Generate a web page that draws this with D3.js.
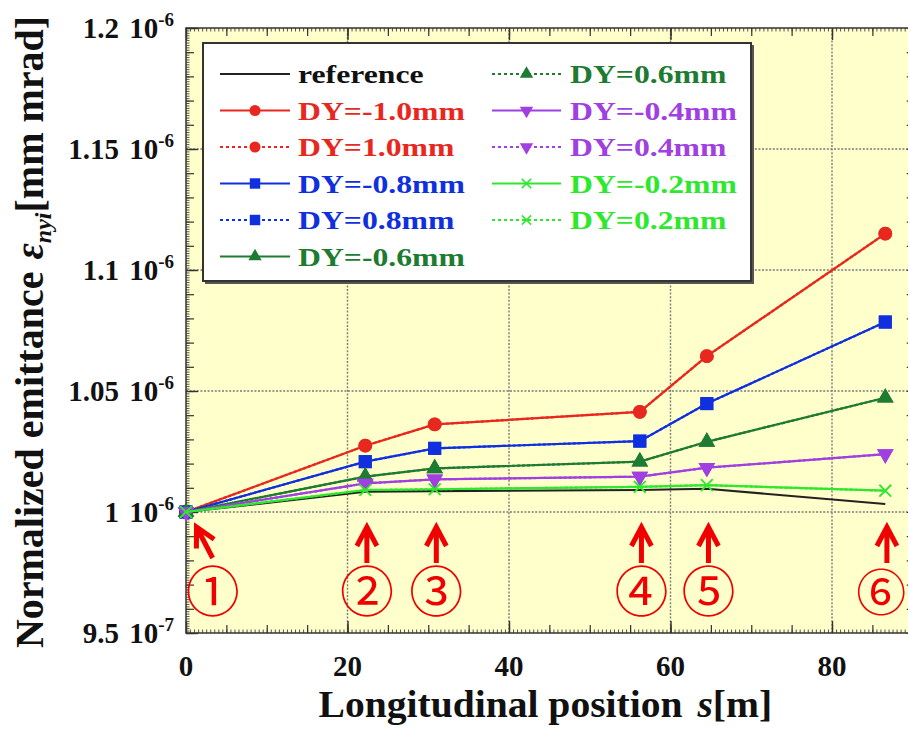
<!DOCTYPE html>
<html>
<head>
<meta charset="utf-8">
<script src="https://cdn.jsdelivr.net/npm/d3@7"></script>
<style>
  body { margin: 0; background: #fff; }
  svg { display: block; }
</style>
</head>
<body>
<svg id="chart" width="908" height="730"></svg>
<script>
// Longitudinal positions of the six observation stations [m]
const positions = [0, 22.2, 30.8, 56.2, 64.5, 86.6];
const stationLabels = ["①", "②", "③", "④", "⑤", "⑥"];

// Normalized emittance at each station, in units of 1e-6 mm mrad
const emitReference = [1.0, 1.0084, 1.0086, 1.0091, 1.0096, 1.0033];
const emitDYm10 = [1.0, 1.0274, 1.0362, 1.0414, 1.0644, 1.1150];
const emitDYp10 = [1.0, 1.0274, 1.0362, 1.0414, 1.0644, 1.1150];
const emitDYm08 = [1.0, 1.0208, 1.0263, 1.0293, 1.0448, 1.0785];
const emitDYp08 = [1.0, 1.0208, 1.0263, 1.0293, 1.0448, 1.0785];
const emitDYm06 = [1.0, 1.0146, 1.0180, 1.0208, 1.0290, 1.0472];
const emitDYp06 = [1.0, 1.0146, 1.0180, 1.0208, 1.0290, 1.0472];
const emitDYm04 = [1.0, 1.0118, 1.0135, 1.0146, 1.0183, 1.0239];
const emitDYp04 = [1.0, 1.0118, 1.0135, 1.0146, 1.0183, 1.0239];
const emitDYm02 = [1.0, 1.0091, 1.0094, 1.0104, 1.0111, 1.0088];
const emitDYp02 = [1.0, 1.0091, 1.0094, 1.0104, 1.0111, 1.0088];

const seriesNames = ["reference", "DY=-1.0mm", "DY=1.0mm", "DY=-0.8mm", "DY=0.8mm",
  "DY=-0.6mm", "DY=0.6mm", "DY=-0.4mm", "DY=0.4mm", "DY=-0.2mm", "DY=0.2mm"];
const seriesValues = [emitReference, emitDYm10, emitDYp10, emitDYm08, emitDYp08,
  emitDYm06, emitDYp06, emitDYm04, emitDYp04, emitDYm02, emitDYp02];

// Axis ticks
const xTicks = [0, 20, 40, 60, 80];
const yTicks = [0.95, 1.0, 1.05, 1.1, 1.15, 1.2];
const yTickMantissa = ["9.5", "1", "1.05", "1.1", "1.15", "1.2"];
const yTickExponent = ["-7", "-6", "-6", "-6", "-6", "-6"];

// Styles
const seriesColors = ["#222222", "#E8281E", "#E8281E", "#1030E0", "#1030E0",
  "#1E7B32", "#1E7B32", "#A040E0", "#A040E0", "#2EE82E", "#2EE82E"];
const seriesDotted = [false, false, true, false, true, false, true, false, true, false, true];
const seriesMarker = [null, "circle", "circle", "square", "square",
  "triUp", "triUp", "triDown", "triDown", "x", "x"];

const serif = "'Liberation Serif','Times New Roman',Times,serif";
const svg = d3.select("#chart");

const x = d3.scaleLinear().domain([0, 90]).range([186, 912.75]);
const y = d3.scaleLinear().domain([0.95, 1.2]).range([633, 28]);

// Plot background
svg.append("rect")
  .attr("x", x(0)).attr("y", y(1.2))
  .attr("width", x(90) - x(0)).attr("height", y(0.95) - y(1.2))
  .attr("fill", "#FFFFCC");

// Dotted grid
const grid = svg.append("g")
  .attr("stroke", "#7a7a7a").attr("stroke-width", 1.4).attr("stroke-dasharray", "2,1.6");
grid.selectAll("line.gx").data(xTicks.filter(d => d > 0)).join("line")
  .attr("x1", d => x(d)).attr("x2", d => x(d)).attr("y1", y(0.95)).attr("y2", y(1.2));
grid.selectAll("line.gy").data(yTicks.filter(d => d > 0.95 && d < 1.2)).join("line")
  .attr("y1", d => y(d)).attr("y2", d => y(d)).attr("x1", x(0)).attr("x2", x(90));

// Axis tick layers (inward ticks on all four sides)
function tickLayer(axis, transform, color, width) {
  const g = svg.append("g").attr("transform", transform).call(axis);
  g.select(".domain").remove();
  g.selectAll(".tick line").attr("stroke", color).attr("stroke-width", width);
  g.selectAll(".tick text").remove();
  return g;
}
const xFine = d3.range(0, 181).map(v => v / 2);
const xMid = d3.range(0, 19).map(v => v * 5);
const yFine = d3.range(950, 1201).map(v => v / 1000);
const yMid = d3.range(95, 121).map(v => v / 100);

tickLayer(d3.axisBottom(x).tickValues(xFine).tickSize(-3.5), `translate(0,${y(0.95)})`, "#555", 1);
tickLayer(d3.axisBottom(x).tickValues(xMid).tickSize(-8), `translate(0,${y(0.95)})`, "#333", 1.2);
tickLayer(d3.axisBottom(x).tickValues(xTicks).tickSize(-12), `translate(0,${y(0.95)})`, "#333", 1.4);
tickLayer(d3.axisTop(x).tickValues(xFine).tickSize(-3.5), `translate(0,${y(1.2)})`, "#555", 1);
tickLayer(d3.axisTop(x).tickValues(xMid).tickSize(-8), `translate(0,${y(1.2)})`, "#333", 1.2);
tickLayer(d3.axisTop(x).tickValues(xTicks).tickSize(-12), `translate(0,${y(1.2)})`, "#333", 1.4);
tickLayer(d3.axisLeft(y).tickValues(yFine).tickSize(-3.5), `translate(${x(0)},0)`, "#555", 1);
tickLayer(d3.axisLeft(y).tickValues(yMid).tickSize(-8), `translate(${x(0)},0)`, "#333", 1.2);
tickLayer(d3.axisLeft(y).tickValues(yTicks).tickSize(-12), `translate(${x(0)},0)`, "#333", 1.4);
tickLayer(d3.axisRight(y).tickValues(yMid).tickSize(-6), `translate(${x(90)},0)`, "#333", 1.2);

// Plot frame
svg.append("rect")
  .attr("x", x(0)).attr("y", y(1.2))
  .attr("width", x(90) - x(0)).attr("height", y(0.95) - y(1.2))
  .attr("fill", "none").attr("stroke", "#333").attr("stroke-width", 1.5);

// Tick labels
svg.append("g").selectAll("text").data(xTicks).join("text")
  .attr("x", d => x(d)).attr("y", 676)
  .attr("text-anchor", "middle")
  .attr("font-family", serif).attr("font-weight", "bold").attr("font-size", 29)
  .attr("fill", "#111")
  .text(d => d);

const yLab = svg.append("g").selectAll("text").data(yTicks).join("text")
  .attr("x", 174).attr("y", d => y(d) + 10)
  .attr("text-anchor", "end")
  .attr("font-family", serif).attr("font-weight", "bold").attr("font-size", 29)
  .attr("fill", "#111");
yLab.append("tspan").text((d, i) => yTickMantissa[i] + " ");
yLab.append("tspan").attr("dx", 3).text("10");
yLab.append("tspan").attr("dy", -12).attr("font-size", 19).text((d, i) => yTickExponent[i]);

// Axis titles
const xTitle = svg.append("text")
  .attr("transform", `translate(${(x(0) + x(90)) / 2 - 4},717) scale(1.07,1)`)
  .attr("text-anchor", "middle")
  .attr("font-family", serif).attr("font-weight", "bold").attr("font-size", 37)
  .attr("fill", "#111");
xTitle.append("tspan").text("Longitudinal position");
xTitle.append("tspan").attr("dx", 14).attr("font-style", "italic").text("s");
xTitle.append("tspan").text("[m]");

const yTitle = svg.append("text")
  .attr("transform", "translate(43,332) rotate(-90)")
  .attr("text-anchor", "middle")
  .attr("font-family", serif).attr("font-weight", "bold").attr("font-size", 40)
  .attr("fill", "#111");
yTitle.append("tspan").text("Normalized emittance");
yTitle.append("tspan").attr("dx", 12).attr("font-style", "italic").text("ε");
yTitle.append("tspan").attr("dy", 8).attr("font-size", 24).attr("font-style", "italic").text("nyi");
yTitle.append("tspan").attr("dy", -8).text("[mm mrad]");

// Marker drawing
function drawMarker(sel, type, color, scale) {
  const k = scale || 1;
  if (!type) return;
  if (type === "circle") {
    sel.append("path").attr("d", d3.symbol(d3.symbolCircle, 150 * k * k)()).attr("fill", color);
  } else if (type === "square") {
    sel.append("path").attr("d", d3.symbol(d3.symbolSquare, 170 * k * k)()).attr("fill", color);
  } else if (type === "triUp") {
    sel.append("path").attr("d", d3.symbol(d3.symbolTriangle, 120 * k * k)()).attr("fill", color);
  } else if (type === "triDown") {
    sel.append("path").attr("d", d3.symbol(d3.symbolTriangle, 120 * k * k)())
      .attr("transform", "rotate(180)").attr("fill", color);
  } else if (type === "x") {
    sel.append("path").attr("d", d3.symbol(d3.symbolX, 90 * k * k)())
      .attr("fill", "none").attr("stroke", color).attr("stroke-width", 1.5);
  }
}

// Series lines and markers
const line = d3.line().x((d, i) => x(positions[i])).y(d => y(d));
const plotG = svg.append("g");
seriesValues.forEach((vals, si) => {
  const g = plotG.append("g");
  g.append("path")
    .attr("d", line(vals))
    .attr("fill", "none")
    .attr("stroke", seriesColors[si])
    .attr("stroke-width", 2.2)
    .attr("stroke-dasharray", seriesDotted[si] ? "3,2" : null);
  if (seriesMarker[si]) {
    vals.forEach((v, i) => {
      const m = g.append("g").attr("transform", `translate(${x(positions[i])},${y(v)})`);
      drawMarker(m, seriesMarker[si], seriesColors[si], 1);
    });
  }
});

// Station annotations: arrows and circled numbers
const annot = svg.append("g");
const arrowTip = positions.map((p, i) => i === 0 ? [p + 1.3, 0.9938] : [p + 0.2, 0.9938]);
const arrowTail = positions.map((p, i) => i === 0 ? [p + 3.3, 0.9810] : [p + 0.2, 0.9789]);
positions.forEach((p, i) => {
  const tx = x(arrowTip[i][0]), ty = y(arrowTip[i][1]);
  const bx = x(arrowTail[i][0]), by = y(arrowTail[i][1]);
  const len = Math.hypot(bx - tx, by - ty);
  const ux = (bx - tx) / len, uy = (by - ty) / len;
  const px = -uy, py = ux;
  const a = 19, w = 10;
  const d = `M${bx},${by}L${tx},${ty}` +
    `M${tx + ux * a + px * w},${ty + uy * a + py * w}L${tx},${ty}L${tx + ux * a - px * w},${ty + uy * a - py * w}`;
  annot.append("path").attr("d", d)
    .attr("fill", "none").attr("stroke", "#F00000").attr("stroke-width", 5)
    .attr("stroke-linejoin", "miter");
  const last = i === positions.length - 1;
  const cx = i === 0 ? x(p + 3.3) : (last ? x(p) - 4 : x(p + 0.2));
  annot.append("text")
    .attr("x", cx).attr("y", y(0.9682))
    .attr("text-anchor", "middle").attr("dominant-baseline", "central")
    .attr("font-family", "'Noto Sans CJK JP','Noto Sans CJK SC',sans-serif")
    .attr("font-size", last ? 50 : 54).attr("fill", "#F00000")
    .text(stationLabels[i]);
});

// Legend
const legend = svg.append("g");
legend.append("rect").attr("x", 205).attr("y", 45).attr("width", 549).attr("height", 239)
  .attr("fill", "#555");
legend.append("rect").attr("x", 203).attr("y", 43).attr("width", 548).attr("height", 238)
  .attr("fill", "#fff").attr("stroke", "#333").attr("stroke-width", 2);

const rowY = [74, 110.5, 147, 183.5, 220, 256.5];
seriesNames.forEach((name, si) => {
  const col = si < 6 ? 0 : 1;
  const row = si < 6 ? si : si - 6;
  const x0 = col === 0 ? 220 : 492;
  const x1 = col === 0 ? 290 : 561;
  const tx = col === 0 ? 298 : 570;
  const ly = rowY[row];
  const g = legend.append("g");
  g.append("line").attr("x1", x0).attr("x2", x1).attr("y1", ly).attr("y2", ly)
    .attr("stroke", seriesColors[si]).attr("stroke-width", 2)
    .attr("stroke-dasharray", seriesDotted[si] ? "3,3" : null);
  if (seriesMarker[si]) {
    const m = g.append("g").attr("transform", `translate(${(x0 + x1) / 2},${ly})`);
    drawMarker(m, seriesMarker[si], seriesColors[si], 0.8);
  }
  g.append("text")
    .attr("transform", `translate(${tx},${ly + 9}) scale(1.22,1)`)
    .attr("font-family", serif).attr("font-weight", "bold").attr("font-size", 26)
    .attr("fill", si === 0 ? "#111" : seriesColors[si])
    .text(name);
});
</script>
</body>
</html>
